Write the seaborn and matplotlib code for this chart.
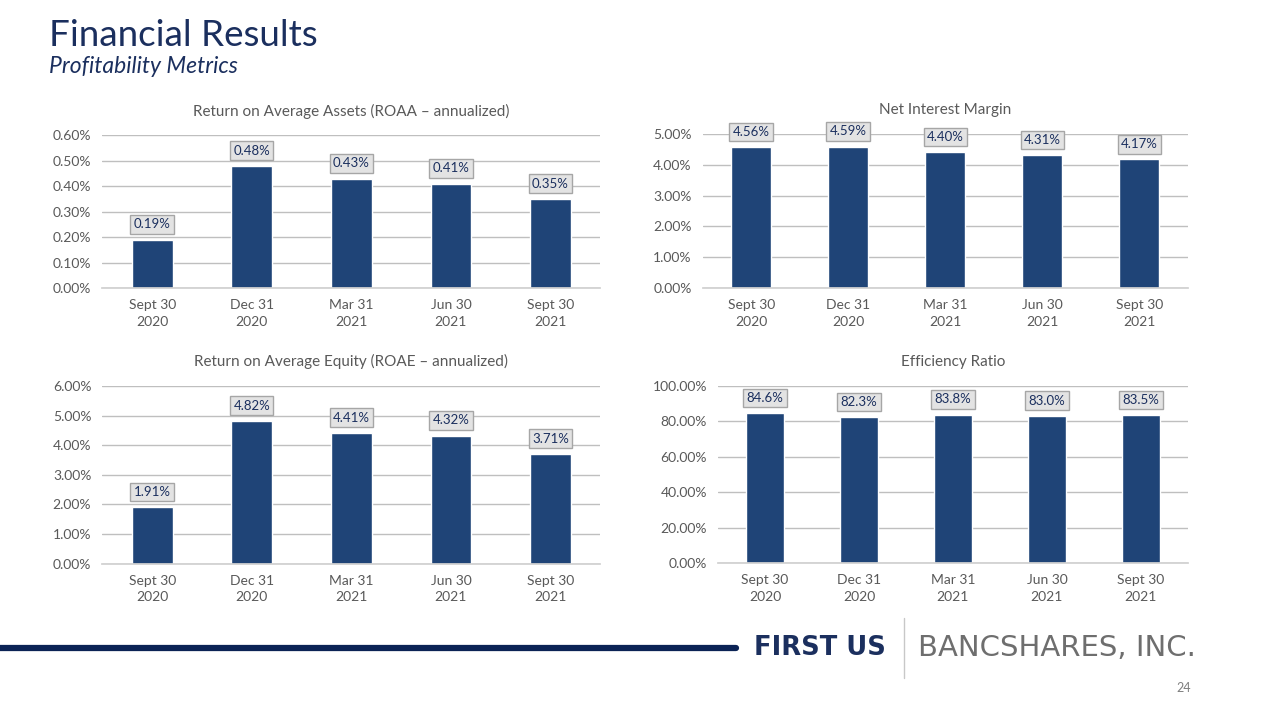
import matplotlib
matplotlib.use('Agg')
import matplotlib.pyplot as plt
import seaborn as sns
from matplotlib.ticker import FuncFormatter

# data
quarters = ['Sept 30\n2020', 'Dec 31\n2020', 'Mar 31\n2021', 'Jun 30\n2021', 'Sept 30\n2021']
roaa = [0.19, 0.48, 0.43, 0.41, 0.35]
nim = [4.56, 4.59, 4.40, 4.31, 4.17]
roae = [1.91, 4.82, 4.41, 4.32, 3.71]
efficiency = [84.6, 82.3, 83.8, 83.0, 83.5]

BAR = '#1f4477'
NAVY = '#1b2f5e'
GRAY = '#595959'

sns.set_theme(style='white')
plt.rcParams['font.family'] = ['Lato', 'DejaVu Sans']

fig = plt.figure(figsize=(12.8, 7.2), dpi=100)
fig.patch.set_facecolor('white')


def panel(rect, values, title, ymax, step, tick_dec, label_dec):
    ax = fig.add_axes(rect)
    sns.barplot(x=quarters, y=values, color=BAR, width=0.41, saturation=1, ax=ax)
    ax.set_ylim(0, ymax)
    ticks = [i * step for i in range(int(round(ymax / step)) + 1)]
    ax.set_yticks(ticks)
    ax.yaxis.set_major_formatter(FuncFormatter(lambda v, p: f'{v:.{tick_dec}f}%'))
    ax.yaxis.grid(True, color='#bfbfbf', linewidth=1)
    ax.set_axisbelow(True)
    for s in ['top', 'right', 'left']:
        ax.spines[s].set_visible(False)
    ax.spines['bottom'].set_color('#d0d0d0')
    ax.tick_params(axis='both', length=0, labelsize=10, labelcolor=GRAY, pad=8)
    for lab in ax.get_xticklabels():
        lab.set_linespacing(1.45)
    ax.set_xlabel('')
    ax.set_ylabel('')
    ax.set_title(title, fontsize=11, color=GRAY, pad=14)
    for i, v in enumerate(values):
        ax.annotate(f'{v:.{label_dec}f}%', (i, v), xytext=(0, 11), textcoords='offset points',
                    ha='center', va='center', fontsize=9.5, color=NAVY,
                    bbox=dict(boxstyle='square,pad=0.25', facecolor='#e3e3e3',
                              edgecolor='#a6a6a6', linewidth=1))
    return ax


panel([0.080, 0.600, 0.389, 0.212], roaa, 'Return on Average Assets (ROAA – annualized)', 0.6, 0.1, 2, 2)
panel([0.549, 0.600, 0.379, 0.214], nim, 'Net Interest Margin', 5.0, 1.0, 2, 2)
panel([0.080, 0.217, 0.389, 0.247], roae, 'Return on Average Equity (ROAE – annualized)', 6.0, 1.0, 2, 2)
panel([0.561, 0.218, 0.367, 0.246], efficiency, 'Efficiency Ratio', 100.0, 20.0, 2, 1)

# header
fig.text(0.038, 0.951, 'Financial Results', fontsize=26.5, color=NAVY, va='center')
fig.text(0.038, 0.908, 'Profitability Metrics', fontsize=16.5, color=NAVY, style='italic', va='center')

# footer
fig.add_artist(plt.Line2D([0, 0.575], [0.100, 0.100], color='#0b2355', linewidth=4.5))
fig.text(0.589, 0.100, 'FIRST US', fontsize=18.5, fontweight='bold', color=NAVY, va='center',
         family=['DejaVu Sans'])
fig.add_artist(plt.Line2D([0.706, 0.706], [0.058, 0.142], color='#c8c8c8', linewidth=1))
fig.text(0.717, 0.100, 'BANCSHARES, INC.', fontsize=21, color='#6e6e6e', va='center',
         family=['DejaVu Sans'])
fig.text(0.925, 0.044, '24', fontsize=9, color='#7f7f7f', ha='center', va='center')

fig.savefig('out.png', dpi=100, facecolor='white')
